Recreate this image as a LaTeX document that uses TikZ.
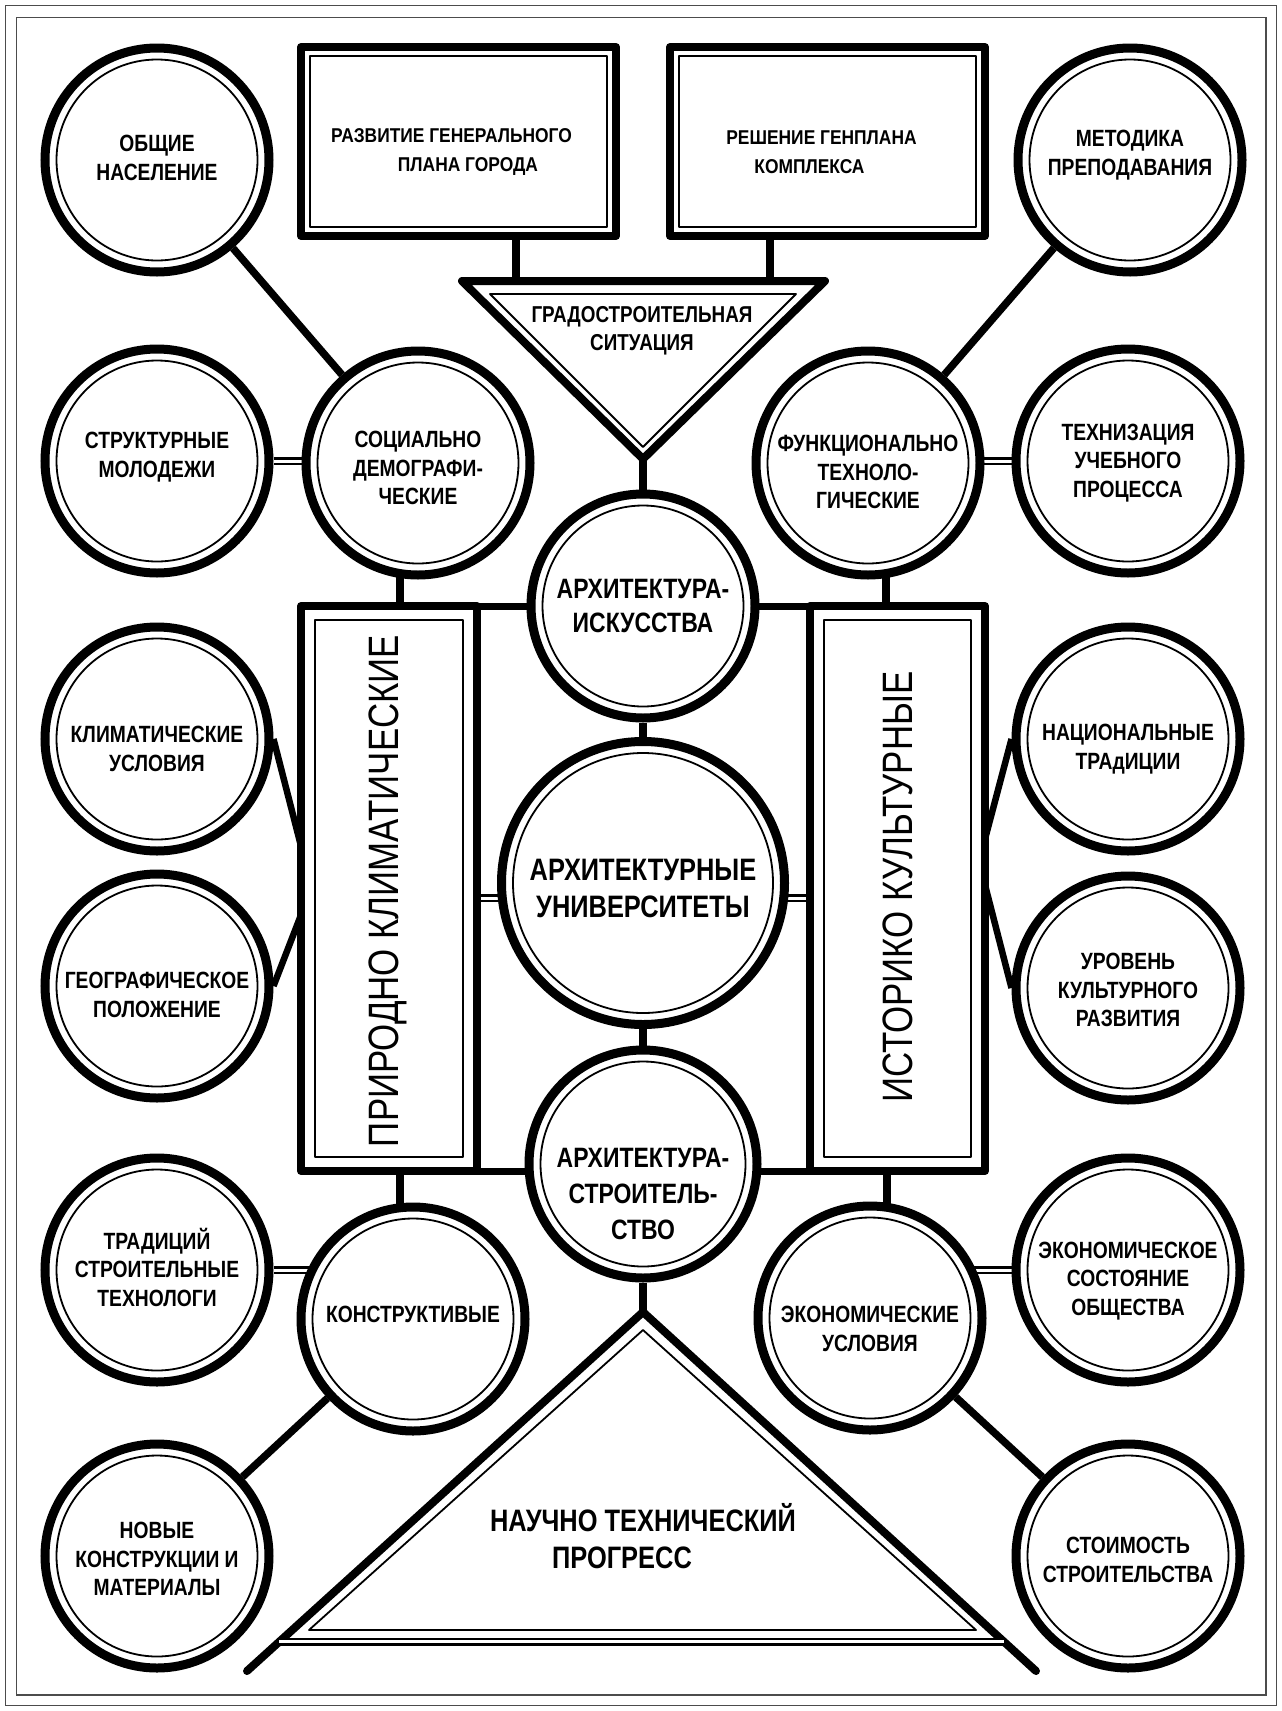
\documentclass[tikz,border=0pt]{standalone}
\usepackage{fontspec}
\setmainfont{Liberation Sans}[FakeStretch=0.82]
\newfontfamily\wideb{Liberation Sans}[FakeStretch=0.87]
\usetikzlibrary{calc,backgrounds}
\begin{document}
\begin{tikzpicture}[x=1pt,y=-1pt,
  ring/.style={circle,draw,line width=9pt,fill=white,inner sep=0pt,minimum size=#1,
    path picture={\draw[line width=1.8pt] (path picture bounding box.center) circle[radius=#1/2-11.5pt];}},
  ring/.default=224pt,
  frametwo/.style={draw,line width=8pt,fill=white,inner sep=0pt,outer sep=0pt,line join=round,
    path picture={\draw[line width=1.8pt] ([shift={(#1,-#1)}]path picture bounding box.north west) rectangle ([shift={(-#1,#1)}]path picture bounding box.south east);}},
  ct/.style={font=\bfseries\fontsize{23.5}{28.5}\selectfont,align=center,inner sep=0pt},
  ctbig/.style={font=\bfseries\fontsize{28}{34}\selectfont,align=center,inner sep=0pt},
  cthuge/.style={font=\bfseries\fontsize{31}{37}\selectfont,align=center,inner sep=0pt},
  bt/.style={font=\wideb\bfseries\fontsize{20}{29}\selectfont,align=center,inner sep=0pt},
  gt/.style={font=\bfseries\fontsize{23}{28.5}\selectfont,align=center,inner sep=0pt},
  nt/.style={font=\bfseries\fontsize{31}{37}\selectfont,align=center,inner sep=0pt},
  vt/.style={font=\fontsize{42.5}{48}\selectfont,rotate=90,inner sep=0pt},
  conn/.style={line width=7.5pt},
  fan/.style={line width=6.5pt},
  dbl/.style={double,line width=2.2pt,double distance=3pt},
  thinl/.style={line width=1.8pt,line join=round},
  border/.style={draw=black!70,line width=1.3pt}
]
\useasboundingbox (0,0) rectangle (1282,1711);
\draw[border] (5.5,5.5) rectangle (1276.5,1705.5);
\draw[border] (16.5,17.5) rectangle (1266,1695);

% boxes
\node[frametwo=9pt,minimum width=315pt,minimum height=189pt] (b1) at (458.5,141.5) {};
\node[bt] (b1t) at ($(b1)+(-7,11)$) {РАЗВИТИЕ ГЕНЕРАЛЬНОГО\\\hspace*{33pt}ПЛАНА ГОРОДА};
\node[frametwo=9pt,minimum width=315pt,minimum height=189pt] (b2) at (827.5,141.5) {};
\node[bt] (b2t) at ($(b2)+(-6,11)$) {РЕШЕНИЕ ГЕНПЛАНА\\КОМПЛЕКСА\hspace*{24pt}};

\node[frametwo=14pt,minimum width=176pt,minimum height=565pt] (lb) at (389,888.5) {};
\node[vt] (lbt) at (388,891) {ПРИРОДНО КЛИМАТИЧЕСКИЕ};
\node[frametwo=14pt,minimum width=175pt,minimum height=565pt] (rb) at (897.5,888.5) {};
\node[vt] (rbt) at (898,887) {ИСТОРИКО КУЛЬТУРНЫЕ};

% top triangle
\coordinate (grL) at (462,281);
\coordinate (grR) at (825,281);
\coordinate (grA) at (643,459);
\filldraw[fill=white,line width=8pt,line join=round] (grL) -- (grR) -- (grA) -- cycle;
\draw[thinl] (490,294) -- (796,294) -- (643,447) -- cycle;
\node[gt] (grt) at (642,331) {ГРАДОСТРОИТЕЛЬНАЯ\\СИТУАЦИЯ};

% bottom triangle
\coordinate (ntA) at (643,1312);
\coordinate (ntL) at (247,1671);
\coordinate (ntR) at (1036,1671);
\draw[line width=8pt,line join=round,line cap=round] (ntL) -- (ntA) -- (ntR);
\draw[dbl] ($(ntA)!0.919!(ntL)$) -- ($(ntA)!0.919!(ntR)$);
\draw[thinl] (643,1330) -- (976,1630) -- (309,1630) -- cycle;
\node[nt] (ntt) at (643,1536) {НАУЧНО ТЕХНИЧЕСКИЙ\\ПРОГРЕСС\hspace*{42pt}};

% circles
\node[ring] (obsh) at (157,160) {};
\node[ct] (obsht) at ($(obsh)+(0,-2)$) {ОБЩИЕ\\НАСЕЛЕНИЕ};
\node[ring] (metod) at (1130,160) {};
\node[ct] (metodt) at ($(metod)+(0,-5)$) {МЕТОДИКА\\ПРЕПОДАВАНИЯ};
\node[ring] (strukt) at (157,461) {};
\node[ct] (struktt) at ($(strukt)+(0,-4)$) {СТРУКТУРНЫЕ\\МОЛОДЕЖИ};
\node[ring] (soc) at (418,463) {};
\node[ct] (soct) at ($(soc)+(0,5)$) {СОЦИАЛЬНО\\ДЕМОГРАФИ-\\ЧЕСКИЕ};
\node[ring] (funk) at (868,463) {};
\node[ct] (funkt) at ($(funk)+(0,9)$) {ФУНКЦИОНАЛЬНО\\ТЕХНОЛО-\\ГИЧЕСКИЕ};
\node[ring] (tekh) at (1128,461) {};
\node[ct] (tekht) at ($(tekh)+(0,2)$) {ТЕХНИЗАЦИЯ\\УЧЕБНОГО\\ПРОЦЕССА};
\node[ring] (aris) at (643,606) {};
\node[ctbig] (arist) at ($(aris)+(0,0)$) {АРХИТЕКТУРА-\\ИСКУССТВА};
\node[ring=283pt] (univ) at (643,883) {};
\node[cthuge] (univt) at ($(univ)+(0,5)$) {АРХИТЕКТУРНЫЕ\\УНИВЕРСИТЕТЫ};
\node[ring] (klim) at (157,739) {};
\node[ct] (klimt) at ($(klim)+(0,10)$) {КЛИМАТИЧЕСКИЕ\\УСЛОВИЯ};
\node[ring] (geo) at (157,986) {};
\node[ct] (geot) at ($(geo)+(0,9)$) {ГЕОГРАФИЧЕСКОЕ\\ПОЛОЖЕНИЕ};
\node[ring] (nac) at (1128,739) {};
\node[ct] (nact) at ($(nac)+(0,10)$) {НАЦИОНАЛЬНЫЕ\\ТРАдИЦИИ};
\node[ring] (urov) at (1128,988) {};
\node[ct] (urovt) at ($(urov)+(0,2)$) {УРОВЕНЬ\\КУЛЬТУРНОГО\\РАЗВИТИЯ};
\node[ring=228pt] (ast) at (643,1164) {};
\node[ctbig,font=\bfseries\fontsize{28}{36}\selectfont] (astt) at ($(ast)+(0,30)$) {АРХИТЕКТУРА-\\СТРОИТЕЛЬ-\\СТВО};
\node[ring] (trad) at (157,1270) {};
\node[ct] (tradt) at ($(trad)+(0,-3)$) {ТРАДИЦИЙ\\СТРОИТЕЛЬНЫЕ\\ТЕХНОЛОГИ};
\node[ring] (konst) at (413,1319) {};
\node[ct] (konstt) at ($(konst)+(0,-5)$) {КОНСТРУКТИВЫЕ};
\node[ring] (ekon) at (870,1318) {};
\node[ct] (ekont) at ($(ekon)+(0,11)$) {ЭКОНОМИЧЕСКИЕ\\УСЛОВИЯ};
\node[ring] (ekos) at (1128,1270) {};
\node[ct] (ekost) at ($(ekos)+(0,11)$) {ЭКОНОМИЧЕСКОЕ\\СОСТОЯНИЕ\\ОБЩЕСТВА};
\node[ring] (novye) at (157,1556) {};
\node[ct] (novyet) at ($(novye)+(0,3)$) {НОВЫЕ\\КОНСТРУКЦИИ И\\МАТЕРИАЛЫ};
\node[ring] (stoim) at (1128,1556) {};
\node[ct] (stoimt) at ($(stoim)+(0,4)$) {СТОИМОСТЬ\\СТРОИТЕЛЬСТВА};

% connectors
\begin{scope}[on background layer]
  \draw[conn] (b1.south -| 516,0) -- (grL -| 516,0);
  \draw[conn] (b2.south -| 770,0) -- (grR -| 770,0);
  \draw[conn] (grA) -- (aris);
  \draw[conn] (aris) -- (univ);
  \draw[conn] (univ) -- (ast);
  \draw[conn] (ast) -- (ntA);
  \draw[conn] (obsh) -- (soc);
  \draw[conn] (metod) -- (funk);
  \draw[conn] (konst) -- (novye);
  \draw[conn] (ekon) -- (stoim);
  \draw[dbl] (strukt) -- (soc.center |- strukt);
  \draw[dbl] (tekh) -- (funk.center |- tekh);
  \draw[dbl] (trad) -- (konst.center |- trad);
  \draw[dbl] (ekos) -- (ekon.center |- ekos);
  \draw[line width=7pt] (lb.north west) -- (rb.north east);
  \draw[line width=7pt] (lb.south west) -- (rb.south east);
  \draw[conn] (soc.center -| 400,0) -- (lb.north -| 400,0);
  \draw[conn] (funk.center -| 886,0) -- (rb.north -| 886,0);
  \draw[conn] (konst.center -| 400,0) -- (lb.south -| 400,0);
  \draw[conn] (ekon.center -| 887,0) -- (rb.south -| 887,0);
  \draw[dbl] (lb.east |- 0,898) -- (rb.west |- 0,898);
  \draw[fan] (klim.east) -- (lb.west |- 0,846);
  \draw[fan] (geo.east) -- (lb.west |- 0,915);
  \draw[fan] (nac.west) -- (rb.east |- 0,839);
  \draw[fan] (urov.west) -- (rb.east |- 0,885);
\end{scope}
\end{tikzpicture}
\end{document}
